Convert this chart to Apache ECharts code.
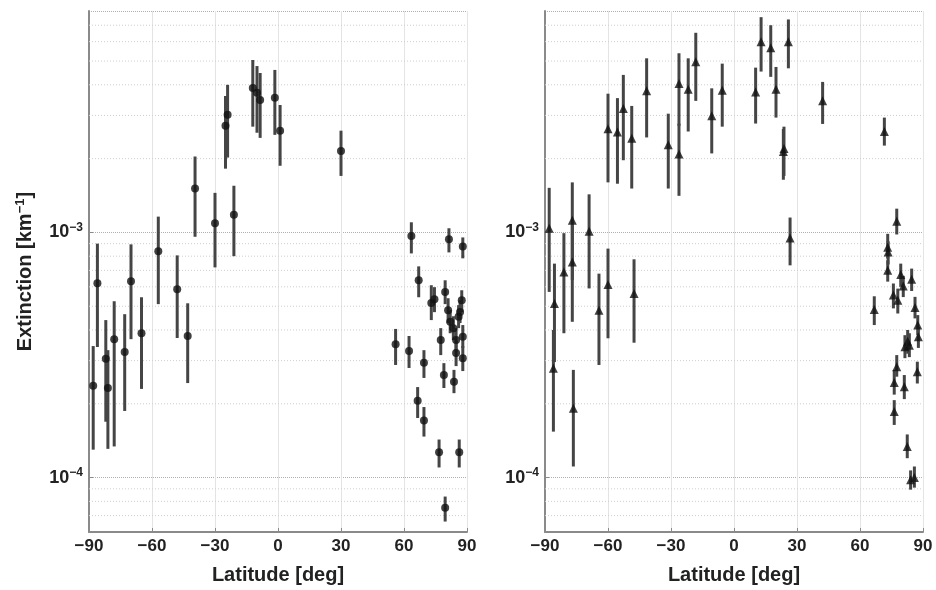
<!DOCTYPE html>
<html>
<head>
    <meta charset="utf-8">
    <title>Extinction vs latitude</title>
    <script src="https://cdn.jsdelivr.net/npm/echarts@6/dist/echarts.min.js"></script>
    <style>
        body, html { margin: 0; padding: 0; background: #fff; }
        #main { width: 936px; height: 590px; }
    </style>
</head>
<body>
    <div id="main"></div>
    <script>
        // left panel: latitude, value, lower, upper
        const leftLat = [-88, -86, -82, -81, -78, -73, -70, -65, -57, -48, -43, -39.5, -30, -25, -24, -21, -12, -10, -8.5, -1.5, 1, 30,
            56, 62.4, 63.5, 66.5, 67, 69.5, 69.5, 73, 74.5, 76.7, 77.5, 79, 79.6, 79.6, 81, 81.4, 82, 83.5, 83.8, 84.8, 84.8, 86, 86.3, 86.7, 87.5, 88, 88, 88];
        const leftVal = [2.37e-4, 6.2e-4, 3.05e-4, 2.32e-4, 3.67e-4, 3.25e-4, 6.32e-4, 3.88e-4, 8.37e-4, 5.87e-4, 3.78e-4, 1.51e-3, 1.09e-3, 2.72e-3, 3.02e-3, 1.18e-3, 3.88e-3, 3.71e-3, 3.47e-3, 3.54e-3, 2.6e-3, 2.15e-3,
            3.5e-4, 3.28e-4, 9.66e-4, 2.06e-4, 6.38e-4, 2.94e-4, 1.71e-4, 5.16e-4, 5.34e-4, 1.27e-4, 3.64e-4, 2.62e-4, 5.72e-4, 7.53e-5, 4.82e-4, 9.37e-4, 4.32e-4, 4.07e-4, 2.46e-4, 3.64e-4, 3.22e-4, 4.53e-4, 1.27e-4, 4.74e-4, 5.29e-4, 8.77e-4, 3.75e-4, 3.07e-4];
        const leftLo = [1.3e-4, 3.41e-4, 1.69e-4, 1.31e-4, 1.34e-4, 1.87e-4, 3.67e-4, 2.3e-4, 5.1e-4, 3.71e-4, 2.43e-4, 9.6e-4, 7.2e-4, 1.82e-3, 2.02e-3, 8.0e-4, 2.7e-3, 2.55e-3, 2.43e-3, 2.5e-3, 1.87e-3, 1.7e-3,
            2.88e-4, 2.8e-4, 8.21e-4, 1.75e-4, 5.44e-4, 2.55e-4, 1.47e-4, 4.39e-4, 4.73e-4, 1.1e-4, 3.16e-4, 2.32e-4, 5.1e-4, 6.62e-5, 4.27e-4, 8.29e-4, 3.88e-4, 3.64e-4, 2.21e-4, 3.25e-4, 2.85e-4, 4.07e-4, 1.1e-4, 4.27e-4, 4.73e-4, 7.84e-4, 3.38e-4, 2.72e-4];
        const leftHi = [3.44e-4, 9.0e-4, 4.39e-4, 3.31e-4, 5.24e-4, 4.64e-4, 8.94e-4, 5.44e-4, 1.16e-3, 8.06e-4, 5.14e-4, 2.04e-3, 1.45e-3, 3.6e-3, 4.0e-3, 1.55e-3, 5.05e-3, 4.77e-3, 4.47e-3, 4.6e-3, 3.31e-3, 2.6e-3,
            4.04e-4, 3.78e-4, 1.1e-3, 2.34e-4, 7.27e-4, 3.31e-4, 1.94e-4, 6.09e-4, 5.98e-4, 1.43e-4, 4.07e-4, 2.93e-4, 6.38e-4, 8.37e-5, 5.39e-4, 1.04e-3, 4.82e-4, 4.55e-4, 2.75e-4, 4.07e-4, 3.61e-4, 5.05e-4, 1.43e-4, 5.29e-4, 5.81e-4, 9.54e-4, 4.19e-4, 3.44e-4];

        // right panel: latitude, value, lower, upper
        const rightLat = [-88, -85.5, -86, -81, -77, -77, -76.5, -69, -64.3, -60, -47.6, -60, -55.5, -52.7, -48.7, -41.6, -31.3, -26.2, -26.2, -21.8, -18.2, -10.6, -5.6,
            10.3, 12.9, 17.5, 20, 23.5, 23.8, 25.9, 26.7, 42.2,
            71.6, 77.5, 73.2, 73.4, 73.2, 79.4, 80.6, 84.6, 75.9, 78, 66.8, 86.2, 87.5, 87.8, 81.4, 82.7, 83.5, 87.3, 77.5, 76.3, 81.1, 76.3, 82.5, 84.1, 85.9];
        const rightVal = [1.04e-3, 5.13e-4, 2.79e-4, 6.9e-4, 1.12e-3, 7.57e-4, 1.92e-4, 1.01e-3, 4.82e-4, 6.13e-4, 5.63e-4, 2.65e-3, 2.57e-3, 3.2e-3, 2.42e-3, 3.78e-3, 2.28e-3, 4.05e-3, 2.09e-3, 3.84e-3, 4.97e-3, 2.99e-3, 3.8e-3,
            3.74e-3, 6.0e-3, 5.66e-3, 3.84e-3, 2.14e-3, 2.2e-3, 6.0e-3, 9.48e-4, 3.44e-3,
            2.58e-3, 1.11e-3, 8.71e-4, 8.32e-4, 7.01e-4, 6.73e-4, 6.05e-4, 6.44e-4, 5.55e-4, 5.29e-4, 4.85e-4, 4.94e-4, 4.19e-4, 3.75e-4, 3.42e-4, 3.6e-4, 3.47e-4, 2.7e-4, 2.83e-4, 2.44e-4, 2.35e-4, 1.86e-4, 1.34e-4, 9.81e-5, 1.0e-4];
        const rightLo = [5.72e-4, 2.96e-4, 1.54e-4, 3.88e-4, 6.4e-4, 4.32e-4, 1.11e-4, 5.91e-4, 2.88e-4, 3.7e-4, 3.55e-4, 1.6e-3, 1.58e-3, 1.97e-3, 1.51e-3, 2.44e-3, 1.51e-3, 2.72e-3, 1.41e-3, 2.58e-3, 3.44e-3, 2.1e-3, 2.7e-3,
            2.78e-3, 4.53e-3, 4.31e-3, 2.94e-3, 1.64e-3, 1.7e-3, 4.67e-3, 7.34e-4, 2.77e-3,
            2.26e-3, 9.81e-4, 7.82e-4, 7.4e-4, 6.3e-4, 6.0e-4, 5.45e-4, 5.77e-4, 4.9e-4, 4.67e-4, 4.19e-4, 4.46e-4, 3.81e-4, 3.38e-4, 3.07e-4, 3.2e-4, 3.1e-4, 2.42e-4, 2.58e-4, 2.18e-4, 2.09e-4, 1.64e-4, 1.2e-4, 8.93e-5, 9.1e-5];
        const rightHi = [1.52e-3, 7.46e-4, 4.0e-4, 9.93e-4, 1.6e-3, 1.08e-3, 2.75e-4, 1.43e-3, 6.79e-4, 8.59e-4, 7.77e-4, 3.68e-3, 3.53e-3, 4.39e-3, 3.28e-3, 5.13e-3, 3.05e-3, 5.38e-3, 2.78e-3, 5.13e-3, 6.52e-3, 3.87e-3, 4.88e-3,
            4.7e-3, 7.55e-3, 7.0e-3, 4.73e-3, 2.64e-3, 2.7e-3, 7.39e-3, 1.15e-3, 4.11e-3,
            2.94e-3, 1.25e-3, 9.87e-4, 9.2e-4, 7.7e-4, 7.46e-4, 6.65e-4, 7.12e-4, 6.19e-4, 5.9e-4, 5.49e-4, 5.46e-4, 4.6e-4, 4.12e-4, 3.81e-4, 4.0e-4, 3.88e-4, 2.97e-4, 3.16e-4, 2.75e-4, 2.62e-4, 2.07e-4, 1.5e-4, 1.07e-4, 1.11e-4];

        // minor grid values on the log axis
        const yMinor = [7e-5, 8e-5, 9e-5, 2e-4, 3e-4, 4e-4, 5e-4, 6e-4, 7e-4, 8e-4, 9e-4, 2e-3, 3e-3, 4e-3, 5e-3, 6e-3, 7e-3];
        const yMin = 6e-5, yMax = 8e-3;

        const font = "'Liberation Sans', Arial, sans-serif";
        const chart = echarts.init(document.getElementById('main'), null, { renderer: 'canvas' });

        function bars(lat, lo, hi) {
            return lat.map((x, i) => [x, lo[i], hi[i]]);
        }
        function pts(lat, val) {
            return lat.map((x, i) => [x, val[i]]);
        }
        function renderBar(params, api) {
            const p1 = api.coord([api.value(0), api.value(1)]);
            const p2 = api.coord([api.value(0), api.value(2)]);
            return {
                type: 'line',
                shape: { x1: p1[0], y1: p1[1], x2: p2[0], y2: p2[1] },
                style: { stroke: '#454545', lineWidth: 3 }
            };
        }
        // minor grid line across the whole latitude range
        function renderMinor(params, api) {
            const p1 = api.coord([api.value(0), api.value(2)]);
            const p2 = api.coord([api.value(1), api.value(2)]);
            return {
                type: 'line',
                shape: { x1: p1[0], y1: p1[1], x2: p2[0], y2: p2[1] },
                style: { stroke: '#cfcfcf', lineWidth: 1, lineDash: [1, 2] }
            };
        }

        function xAxisOpt(idx) {
            return {
                type: 'value', gridIndex: idx, min: -90, max: 90, interval: 30,
                name: 'Latitude [deg]', nameLocation: 'middle', nameGap: 33,
                nameTextStyle: { fontFamily: font, fontWeight: 'bold', fontSize: 20, color: '#222' },
                axisLine: { show: true, onZero: false, lineStyle: { color: '#8a8a8a', width: 2 } },
                axisTick: { inside: true, length: 4, lineStyle: { color: '#8a8a8a' } },
                axisLabel: {
                    margin: 6, fontFamily: font, fontWeight: 'bold', fontSize: 17, color: '#222',
                    formatter: v => (v < 0 ? '\u2212' + (-v) : String(v))
                },
                splitLine: { show: true, lineStyle: { color: '#e4e4e4', width: 1 } }
            };
        }
        function yAxisOpt(idx, withName) {
            return {
                type: 'log', gridIndex: idx, logBase: 10, min: yMin, max: yMax,
                name: withName ? '{a|Extinction [km}{s|\u22121}{a|]}' : '',
                nameLocation: 'middle', nameGap: 52, nameRotate: 90,
                nameTextStyle: {
                    rich: {
                        a: { fontFamily: font, fontWeight: 'bold', fontSize: 20, color: '#222' },
                        s: { fontFamily: font, fontWeight: 'bold', fontSize: 13, color: '#222', padding: [0, 0, 10, 0] }
                    }
                },
                axisLine: { show: true, onZero: false, lineStyle: { color: '#8a8a8a', width: 2 } },
                axisTick: { inside: true, length: 4, lineStyle: { color: '#8a8a8a' } },
                axisLabel: {
                    margin: 6, showMinLabel: false, showMaxLabel: false,
                    formatter: function (v) {
                        const p = Math.log10(v);
                        if (Math.abs(p - Math.round(p)) > 1e-6) return '';
                        return '{b|10}{s|\u2212' + (-Math.round(p)) + '}';
                    },
                    rich: {
                        b: { fontFamily: font, fontWeight: 'bold', fontSize: 18, color: '#222' },
                        s: { fontFamily: font, fontWeight: 'bold', fontSize: 12, color: '#222', padding: [0, 0, 10, 0] }
                    }
                },
                splitLine: { show: true, lineStyle: { color: '#b0b0b0', type: 'dotted', width: 1 } }
            };
        }
        function minorSeries(idx) {
            return {
                type: 'custom', xAxisIndex: idx, yAxisIndex: idx, z: 1, silent: true,
                renderItem: renderMinor, encode: { x: [0, 1], y: 2 },
                data: yMinor.map(v => [-90, 90, v])
            };
        }

        const option = {
            animation: false,
            backgroundColor: '#fff',
            grid: [
                { left: 89, top: 11, width: 378, height: 521 },
                { left: 545, top: 11, width: 378, height: 521 }
            ],
            xAxis: [xAxisOpt(0), xAxisOpt(1)],
            yAxis: [yAxisOpt(0, true), yAxisOpt(1, false)],
            series: [
                minorSeries(0),
                minorSeries(1),
                {
                    type: 'custom', xAxisIndex: 0, yAxisIndex: 0, z: 3,
                    renderItem: renderBar, encode: { x: 0, y: [1, 2] },
                    data: bars(leftLat, leftLo, leftHi)
                },
                {
                    type: 'scatter', xAxisIndex: 0, yAxisIndex: 0, z: 4,
                    symbol: 'circle', symbolSize: 8, itemStyle: { color: '#111' },
                    data: pts(leftLat, leftVal)
                },
                {
                    type: 'custom', xAxisIndex: 1, yAxisIndex: 1, z: 3,
                    renderItem: renderBar, encode: { x: 0, y: [1, 2] },
                    data: bars(rightLat, rightLo, rightHi)
                },
                {
                    type: 'scatter', xAxisIndex: 1, yAxisIndex: 1, z: 4,
                    symbol: 'triangle', symbolSize: 9, itemStyle: { color: '#111' },
                    data: pts(rightLat, rightVal)
                }
            ]
        };

        chart.setOption(option);
        window.addEventListener('resize', function () {
            chart.resize();
        });
    </script>
</body>
</html>
